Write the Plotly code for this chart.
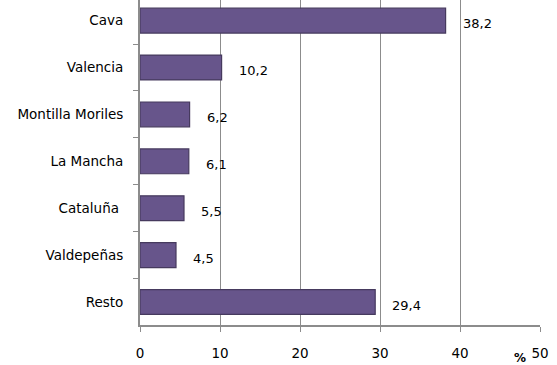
import plotly.graph_objects as go

categories = ["Cava", "Valencia", "Montilla Moriles", "La Mancha", "Cataluña ", "Valdepeñas", "Resto"]
values = [38.2, 10.2, 6.2, 6.1, 5.5, 4.5, 29.4]
labels = ["38,2", "10,2", "6,2", "6,1", "5,5", "4,5", "29,4"]
x_ticks = [0, 10, 20, 30, 40, 50]

fig = go.Figure()
fig.add_trace(go.Bar(
    y=categories, x=values, orientation="h",
    marker=dict(color="#67558b", line=dict(color="#463a5e", width=1.2)),
    width=0.53, hoverinfo="skip",
))

for c, v, t in zip(categories, values, labels):
    fig.add_annotation(x=v, y=c, text=t, showarrow=False, xanchor="left",
                       xshift=15, yshift=-3, font=dict(size=13, color="#000000"))

fig.add_annotation(x=0.95, y=-0.1, xref="paper", yref="paper", text="<b>%</b>",
                   showarrow=False, xanchor="center", yanchor="middle",
                   font=dict(size=12, color="#000000"))

fig.update_layout(
    width=557, height=365,
    margin=dict(l=140, r=17, t=0, b=40),
    paper_bgcolor="white", plot_bgcolor="white",
    font=dict(family="DejaVu Sans", size=13.5, color="#000000"),
    showlegend=False,
)
fig.update_xaxes(
    range=[0, 50], tickvals=x_ticks, showgrid=True, gridcolor="#8c8c8c", gridwidth=1,
    showline=True, linecolor="#8c8c8c", linewidth=2, ticks="outside", ticklen=5,
    tickcolor="#8c8c8c", ticklabelstandoff=10, zeroline=False, automargin=False,
)
fig.update_yaxes(
    categoryorder="array", categoryarray=categories, range=[6.49, -0.44],
    showline=True, linecolor="#8c8c8c", linewidth=2, ticks="outside", ticklen=5,
    tickcolor="#8c8c8c", tickson="boundaries", ticklabelstandoff=12, showgrid=False,
    automargin=False,
)

fig.write_html("out.html", config={"displayModeBar": False},
               post_script="document.body.style.margin='0';document.body.style.padding='0';")
